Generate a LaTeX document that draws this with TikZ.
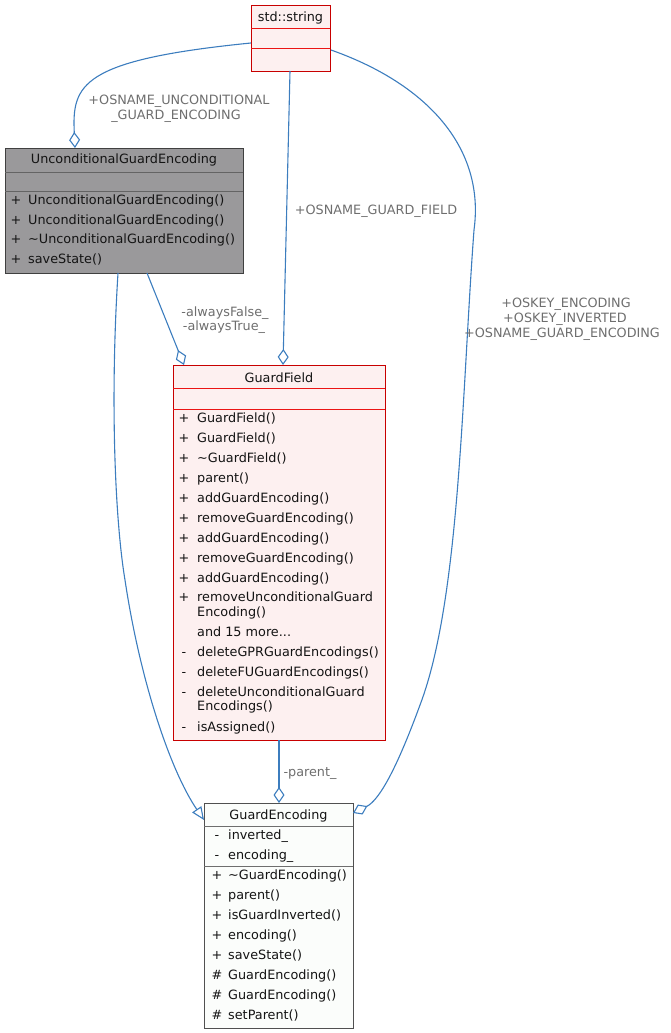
\documentclass[tikz,border=0pt]{standalone}
\usepackage{fontspec}
\setmainfont{DejaVu Sans}
\usetikzlibrary{arrows.meta}
\definecolor{edgeblue}{RGB}{60,125,190}
\definecolor{lblgray}{RGB}{110,110,110}
\definecolor{redfill}{RGB}{253,240,240}
\definecolor{redline}{RGB}{200,0,0}
\definecolor{redsep}{RGB}{235,20,20}
\definecolor{greyfill}{RGB}{154,153,155}
\definecolor{greyline}{RGB}{64,64,64}
\definecolor{greysep}{RGB}{100,100,100}
\definecolor{whitefill}{RGB}{251,253,251}
\definecolor{whiteline}{RGB}{80,80,80}
\definecolor{whitesep}{RGB}{110,110,110}
\definecolor{txt}{RGB}{20,20,20}
\newcommand\mysz{\fontsize{12.8}{15}\selectfont}
\tikzset{
  box/.style={anchor=north west, inner sep=0pt, line width=1.4pt},
  redbox/.style={box, draw=redline, fill=redfill},
  greybox/.style={box, draw=greyline, fill=greyfill},
  whitebox/.style={box, draw=whiteline, fill=whitefill},
  sepline/.style={line width=1pt},
  ttl/.style={inner sep=0pt, anchor=base, font=\mysz, text=txt},
  sym/.style={inner sep=0pt, anchor=base, font=\mysz, text=txt},
  mem/.style={inner sep=0pt, anchor=base west, font=\mysz, text=txt},
  lbl/.style={inner sep=0pt, anchor=base, font=\mysz, text=lblgray},
  edge/.style={draw=edgeblue, line width=1.1pt},
  agg/.style={edge, -{Diamond[open, length=16pt, width=11pt, line width=1.1pt]}},
  inh/.style={edge, -{Triangle[open, length=13pt, width=11pt, line width=1.1pt]}},
}
% name, symbol x, name x, row centre y, symbol, text
\newcommand\mrow[6]{\node[sym] (#1a) at (#2,#4+4.5) {#5};\node[mem] (#1b) at (#3,#4+4.5) {#6};}
\newcommand\mtxt[4]{\node[mem] (#1) at (#2,#3+4.5) {#4};}
\begin{document}
\begin{tikzpicture}[x=1pt,y=-1pt]
\useasboundingbox (0,0) rectangle (671,1033);

% ---------- std::string ----------
\node[redbox, minimum width=79pt, minimum height=66pt] (str) at (251,5) {};
\draw[redsep, sepline] (251,29) -- (330,29) (251,49) -- (330,49);
\node[ttl] (strT) at (290.5,17+4.5) {std::string};

% ---------- UnconditionalGuardEncoding ----------
\node[greybox, minimum width=238pt, minimum height=125pt] (uge) at (5,148) {};
\draw[greysep, sepline] (5,172) -- (243,172) (5,191) -- (243,191);
\node[ttl] (ugeT) at (124,159+4.5) {UnconditionalGuardEncoding};
\mrow{u1}{16}{28}{200}{+}{UnconditionalGuardEncoding()}
\mrow{u2}{16}{28}{220}{+}{UnconditionalGuardEncoding()}
\mrow{u3}{16}{28}{239}{+}{\textasciitilde UnconditionalGuardEncoding()}
\mrow{u4}{16}{28}{259}{+}{saveState()}

% ---------- GuardField ----------
\node[redbox, minimum width=212pt, minimum height=375pt] (gf) at (173,365) {};
\draw[redsep, sepline] (173,388) -- (385,388) (173,409) -- (385,409);
\node[ttl] (gfT) at (279,378+4.5) {GuardField};
\mrow{g1}{184}{197}{418}{+}{GuardField()}
\mrow{g2}{184}{197}{438}{+}{GuardField()}
\mrow{g3}{184}{197}{458}{+}{\textasciitilde GuardField()}
\mrow{g4}{184}{197}{478}{+}{parent()}
\mrow{g5}{184}{197}{498}{+}{addGuardEncoding()}
\mrow{g6}{184}{197}{518}{+}{removeGuardEncoding()}
\mrow{g7}{184}{197}{538}{+}{addGuardEncoding()}
\mrow{g8}{184}{197}{558}{+}{removeGuardEncoding()}
\mrow{g9}{184}{197}{578}{+}{addGuardEncoding()}
\mrow{g10}{184}{197}{597}{+}{removeUnconditionalGuard}
\mtxt{g10c}{197}{612}{Encoding()}
\mtxt{g11}{197}{632}{and 15 more...}
\mrow{g12}{184}{197}{652}{-}{deleteGPRGuardEncodings()}
\mrow{g13}{184}{197}{672}{-}{deleteFUGuardEncodings()}
\mrow{g14}{184}{197}{692}{-}{deleteUnconditionalGuard}
\mtxt{g14c}{197}{706}{Encodings()}
\mrow{g15}{184}{197}{727}{-}{isAssigned()}

% ---------- GuardEncoding ----------
\node[whitebox, minimum width=149pt, minimum height=225pt] (ge) at (204,803) {};
\draw[whitesep, sepline] (204,826) -- (353,826) (204,866) -- (353,866);
\node[ttl] (geT) at (278.5,815+4.5) {GuardEncoding};
\mrow{e1}{217}{228}{835}{-}{inverted\_}
\mrow{e2}{217}{228}{855}{-}{encoding\_}
\mrow{e3}{217}{228}{875}{+}{\textasciitilde GuardEncoding()}
\mrow{e4}{217}{228}{895}{+}{parent()}
\mrow{e5}{217}{228}{915}{+}{isGuardInverted()}
\mrow{e6}{217}{228}{935}{+}{encoding()}
\mrow{e7}{217}{228}{955}{+}{saveState()}
\mrow{e8}{217}{228}{975}{\#}{GuardEncoding()}
\mrow{e9}{217}{228}{995}{\#}{GuardEncoding()}
\mrow{e10}{217}{228}{1015}{\#}{setParent()}

% ---------- connector end points ----------
\coordinate (strW) at (251,43);
\coordinate (strB) at (290,71);
\coordinate (strE) at (331,50);
\coordinate (ugeTop) at (75,148);
\coordinate (ugeB1) at (118,273);
\coordinate (ugeB2) at (147,273);
\coordinate (gfTop1) at (184,365);
\coordinate (gfTop2) at (283,365);
\coordinate (gfBot) at (279,740);
\coordinate (geTop) at (279,803);
\coordinate (geL) at (204,820);
\coordinate (geR) at (353,813);

% ---------- connectors ----------
\draw[agg] (strW) .. controls (80,60) and (72,85) .. (ugeTop);
\draw[agg] (strB) -- (gfTop2);
\draw[agg] (strE) .. controls (430,85) and (485,150) .. (474,230)
  .. controls (462,390) and (460,600) .. (420,705)
  .. controls (398,765) and (380,800) .. (geR);
\draw[agg] (ugeB2) -- (gfTop1);
\draw[inh] (ugeB1) .. controls (110,400) and (115,520) .. (125,580)
  .. controls (140,680) and (170,770) .. (geL);
\draw[agg] (gfBot) -- (geTop);

% ---------- labels ----------
\node[lbl] (l1a) at (179,100+4.5) {+OSNAME\_UNCONDITIONAL};
\node[lbl] (l1b) at (176,115+4.5) {\_GUARD\_ENCODING};
\node[lbl] (l2) at (376,210+4.5) {+OSNAME\_GUARD\_FIELD};
\node[lbl] (l3a) at (225,312+4.5) {-alwaysFalse\_};
\node[lbl] (l3b) at (224,326+4.5) {-alwaysTrue\_};
\node[lbl] (l4a) at (566,303+4.5) {+OSKEY\_ENCODING};
\node[lbl] (l4b) at (565,318+4.5) {+OSKEY\_INVERTED};
\node[lbl] (l4c) at (562,333+4.5) {+OSNAME\_GUARD\_ENCODING};
\node[lbl] (l5) at (310,772+4.5) {-parent\_};
\end{tikzpicture}
\end{document}
